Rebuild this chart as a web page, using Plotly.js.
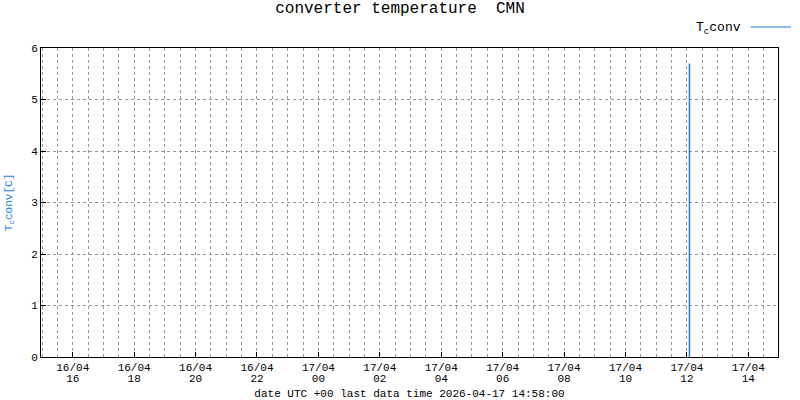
<!DOCTYPE html>
<html>
<head>
<meta charset="utf-8">
<script src="https://cdn.plot.ly/plotly-3.0.1.min.js"></script>
<style>html,body{margin:0;padding:0;background:#fff;}#chart{width:800px;height:400px;}</style>
</head>
<body>
<div id="chart"></div>
<script>
// Data
const times = ["2026-04-17 12:05:00", "2026-04-17 12:05:00"];
const tconv = [0, 5.7];
const xRange = ["2026-04-16 14:58:00", "2026-04-17 14:58:00"];
const yTicks = [0, 1, 2, 3, 4, 5, 6];
const titleText = "converter temperature  CMN";
const xTitle = "date UTC +00 last data time 2026-04-17 14:58:00";
const seriesName = "T<sub>c</sub>conv";
const yTitle = "T<sub>c</sub>conv[C]";

const lineColor = "#1f7fe8";
const font = "Liberation Mono, DejaVu Sans Mono, monospace";
const tick0 = "2026-04-16 16:00:00";

const trace = {
  x: times, y: tconv, type: "scatter", mode: "lines",
  line: {color: lineColor, width: 1.5}, showlegend: false, hoverinfo: "skip"
};
// invisible companion so the hour-label axis is drawn
const hourTrace = {
  x: times, y: tconv, type: "scatter", mode: "lines", xaxis: "x2",
  line: {color: "rgba(0,0,0,0)", width: 0}, showlegend: false, hoverinfo: "skip"
};

const layout = {
  width: 800, height: 400,
  margin: {l: 41, r: 22, t: 48, b: 43},
  paper_bgcolor: "#fff", plot_bgcolor: "#fff",
  font: {family: font, size: 11, color: "#000"},
  title: {text: titleText, x: 0.5, xref: "container", xanchor: "center", y: 0.995, yanchor: "top",
          font: {family: font, size: 16, color: "#000"}},
  xaxis: {
    type: "date", range: xRange,
    dtick: 2 * 3600 * 1000, tick0: tick0,
    tickformat: "%d/%m",
    ticks: "inside", ticklen: 5, tickcolor: "#000",
    showgrid: true, gridcolor: "#999", griddash: "dot", gridwidth: 1,
    minor: {dtick: 30 * 60 * 1000, tick0: tick0, showgrid: true,
            gridcolor: "#999", griddash: "dot", gridwidth: 1, ticks: ""},
    showline: true, linecolor: "#000", linewidth: 1, mirror: true,
    zeroline: false,
    tickfont: {family: font, size: 11, color: "#000"},
    title: {text: xTitle, standoff: 17, font: {family: font, size: 11, color: "#000"}}
  },
  xaxis2: {
    type: "date", range: xRange, overlaying: "x", matches: "x", anchor: "y", side: "bottom",
    dtick: 2 * 3600 * 1000, tick0: tick0, tickformat: "%H",
    ticks: "", ticklabelstandoff: 13, showgrid: false, showline: false, zeroline: false,
    tickfont: {family: font, size: 11, color: "#000"}
  },
  yaxis: {
    range: [0, 6], tickvals: yTicks,
    ticks: "inside", ticklen: 5, tickcolor: "#000",
    showgrid: true, gridcolor: "#999", griddash: "dot", gridwidth: 1,
    showline: true, linecolor: "#000", linewidth: 1, mirror: true,
    zeroline: false,
    tickfont: {family: font, size: 11, color: "#000"},
    title: {text: yTitle, standoff: 16, font: {family: font, size: 11, color: lineColor}}
  },
  annotations: [{
    text: seriesName, xref: "paper", yref: "paper", x: 0.952, y: 1.062,
    xanchor: "right", yanchor: "middle", showarrow: false,
    font: {family: font, size: 13, color: "#000"}
  }],
  shapes: [{
    type: "line", xref: "paper", yref: "paper", x0: 0.963, x1: 1.0176, y0: 1.068, y1: 1.068,
    line: {color: lineColor, width: 1.2}
  }]
};

Plotly.newPlot("chart", [trace, hourTrace], layout, {displayModeBar: false, staticPlot: true});
</script>
</body>
</html>
